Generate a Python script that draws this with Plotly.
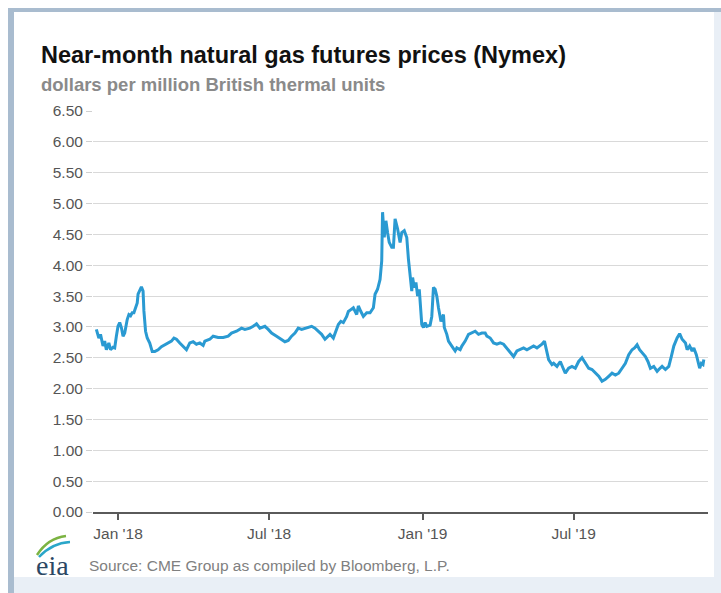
import plotly.graph_objects as go

# ---- data ----
dates = [
    "2017-12-06","2017-12-09","2017-12-11","2017-12-14","2017-12-16","2017-12-18","2017-12-21","2017-12-23",
    "2017-12-26","2017-12-28","2017-12-30","2018-01-01","2018-01-03","2018-01-05","2018-01-07","2018-01-09",
    "2018-01-12","2018-01-14","2018-01-16","2018-01-18","2018-01-20","2018-01-22","2018-01-24","2018-01-25",
    "2018-01-27","2018-01-29","2018-01-31","2018-02-01","2018-02-03","2018-02-05","2018-02-08","2018-02-11",
    "2018-02-14","2018-02-18","2018-02-22","2018-02-26","2018-03-02","2018-03-06","2018-03-09","2018-03-12",
    "2018-03-16","2018-03-20","2018-03-24","2018-03-28","2018-04-01","2018-04-05","2018-04-09","2018-04-13",
    "2018-04-15","2018-04-21","2018-04-25","2018-05-01","2018-05-07","2018-05-13","2018-05-17","2018-05-23",
    "2018-05-29","2018-06-02","2018-06-08","2018-06-12","2018-06-16","2018-06-20","2018-06-26","2018-06-30",
    "2018-07-04","2018-07-10","2018-07-16","2018-07-20","2018-07-24","2018-07-28","2018-08-01","2018-08-05",
    "2018-08-09","2018-08-15","2018-08-21","2018-08-25","2018-08-29","2018-09-02","2018-09-06","2018-09-10",
    "2018-09-12","2018-09-16","2018-09-20","2018-09-22","2018-09-25","2018-09-28","2018-10-02","2018-10-04",
    "2018-10-07","2018-10-10","2018-10-14","2018-10-16","2018-10-19","2018-10-22","2018-10-26","2018-10-30",
    "2018-11-03","2018-11-05","2018-11-08","2018-11-11","2018-11-13","2018-11-14","2018-11-16","2018-11-18",
    "2018-11-20","2018-11-22","2018-11-25","2018-11-27","2018-11-29","2018-12-02","2018-12-05","2018-12-07",
    "2018-12-10","2018-12-13","2018-12-15","2018-12-17","2018-12-19","2018-12-20","2018-12-22","2018-12-24",
    "2018-12-26","2018-12-28","2018-12-30","2018-12-31","2019-01-02","2019-01-04","2019-01-06","2019-01-10",
    "2019-01-12","2019-01-14","2019-01-16","2019-01-18","2019-01-20","2019-01-23","2019-01-26","2019-01-27",
    "2019-01-30","2019-02-01","2019-02-05","2019-02-09","2019-02-11","2019-02-15","2019-02-17","2019-02-21",
    "2019-02-25","2019-03-01","2019-03-05","2019-03-09","2019-03-13","2019-03-17","2019-03-19","2019-03-23",
    "2019-03-27","2019-03-31","2019-04-04","2019-04-08","2019-04-13","2019-04-16","2019-04-20","2019-04-24",
    "2019-04-28","2019-05-02","2019-05-06","2019-05-10","2019-05-14","2019-05-18","2019-05-21","2019-05-24",
    "2019-05-27","2019-05-30","2019-06-01","2019-06-05","2019-06-07","2019-06-11","2019-06-15","2019-06-19",
    "2019-06-21","2019-06-25","2019-06-29","2019-07-03","2019-07-07","2019-07-11","2019-07-15","2019-07-19",
    "2019-07-23","2019-07-27","2019-07-31","2019-08-04","2019-08-08","2019-08-12","2019-08-16","2019-08-20",
    "2019-08-24","2019-08-28","2019-09-01","2019-09-05","2019-09-09","2019-09-12","2019-09-15","2019-09-18",
    "2019-09-21","2019-09-25","2019-09-28","2019-10-01","2019-10-05","2019-10-09","2019-10-11","2019-10-15",
    "2019-10-19","2019-10-23","2019-10-26","2019-10-29","2019-11-02","2019-11-05","2019-11-08","2019-11-12",
    "2019-11-14","2019-11-17","2019-11-20","2019-11-22","2019-11-25","2019-11-27","2019-11-29","2019-12-01",
    "2019-12-03","2019-12-04",
]
prices = [
    2.96,2.82,2.88,2.69,2.77,2.63,2.74,2.63,
    2.67,2.66,2.85,3.01,3.07,2.99,2.85,2.90,
    3.12,3.20,3.18,3.23,3.23,3.31,3.39,3.53,
    3.58,3.65,3.58,3.26,2.93,2.82,2.74,2.60,
    2.60,2.63,2.68,2.71,2.74,2.77,2.82,2.80,
    2.74,2.68,2.63,2.74,2.76,2.72,2.74,2.70,
    2.77,2.80,2.85,2.83,2.83,2.85,2.90,2.93,
    2.98,2.96,2.98,3.01,3.05,2.98,3.01,2.96,
    2.90,2.85,2.80,2.76,2.78,2.85,2.90,2.98,
    2.96,2.98,3.01,2.98,2.93,2.88,2.80,2.85,
    2.88,2.82,2.96,3.04,3.09,3.07,3.17,3.25,
    3.28,3.31,3.20,3.34,3.25,3.17,3.23,3.23,
    3.31,3.53,3.61,3.77,4.07,4.86,4.45,4.72,
    4.53,4.37,4.29,4.29,4.75,4.59,4.37,4.53,
    4.56,4.45,4.10,3.85,3.58,3.80,3.64,3.72,
    3.50,3.61,3.26,3.04,2.99,3.07,3.01,3.03,
    3.17,3.64,3.61,3.50,3.31,3.09,3.20,2.99,
    2.88,2.77,2.69,2.61,2.66,2.63,2.69,2.77,
    2.88,2.90,2.93,2.88,2.90,2.90,2.85,2.82,
    2.74,2.72,2.74,2.72,2.63,2.58,2.52,2.61,
    2.63,2.66,2.63,2.66,2.69,2.66,2.69,2.72,
    2.77,2.61,2.47,2.39,2.41,2.36,2.44,2.31,
    2.25,2.33,2.36,2.33,2.44,2.50,2.41,2.33,
    2.31,2.25,2.20,2.12,2.15,2.20,2.25,2.22,
    2.25,2.33,2.41,2.55,2.63,2.66,2.71,2.63,
    2.58,2.52,2.44,2.33,2.36,2.28,2.31,2.36,
    2.31,2.36,2.52,2.69,2.82,2.89,2.80,2.74,
    2.63,2.69,2.61,2.66,2.55,2.44,2.33,2.41,
    2.39,2.47,
]
x_tick_vals = ["2018-01-01", "2018-07-01", "2019-01-01", "2019-07-01"]
x_tick_text = ["Jan '18", "Jul '18", "Jan '19", "Jul '19"]
y_tick_vals = [0, 0.5, 1, 1.5, 2, 2.5, 3, 3.5, 4, 4.5, 5, 5.5, 6, 6.5]
y_tick_text = ["%.2f" % v for v in y_tick_vals]

title_text = "Near-month natural gas futures prices (Nymex)"
subtitle_text = "dollars per million British thermal units"
source_text = "Source: CME Group as compiled by Bloomberg, L.P."

# ---- layout geometry (pixels) ----
W, H = 721, 593
L, R, T, B = 93, 708, 111, 512
PW, PH = R - L, B - T


def px(x):
    return (x - L) / PW


def py(y):
    return (B - y) / PH


FONT = "Liberation Sans, Arial, Helvetica, sans-serif"

fig = go.Figure()
fig.add_trace(go.Scatter(
    x=dates, y=prices, mode="lines",
    line=dict(color="#2a9ad2", width=3),
    hoverinfo="x+y", showlegend=False,
))

shapes = [
    # outer light-blue frame
    dict(type="rect", xref="paper", yref="paper", x0=px(8), x1=px(W), y0=py(H), y1=py(8),
         fillcolor="#e9eff6", line=dict(width=0), layer="below"),
    # left border bar
    dict(type="rect", xref="paper", yref="paper", x0=px(8), x1=px(14), y0=py(H), y1=py(8),
         fillcolor="#a9bccf", line=dict(width=0), layer="below"),
    # top border
    dict(type="rect", xref="paper", yref="paper", x0=px(8), x1=px(W), y0=py(12), y1=py(8),
         fillcolor="#a9bccf", line=dict(width=0), layer="below"),
    # inner white panel
    dict(type="rect", xref="paper", yref="paper", x0=px(14), x1=px(714), y0=py(577), y1=py(12),
         fillcolor="#ffffff", line=dict(width=0), layer="below"),
    # eia logo swooshes
    dict(type="path", xref="paper", yref="paper",
         path="M %f %f Q %f %f %f %f" % (px(37), py(555), px(48), py(538), px(66), py(536)),
         line=dict(color="#7cb342", width=2.5)),
    dict(type="path", xref="paper", yref="paper",
         path="M %f %f Q %f %f %f %f" % (px(39), py(557), px(52), py(543), px(70), py(542)),
         line=dict(color="#2aa6c9", width=2.5)),
]

annotations = [
    dict(text="<b>%s</b>" % title_text, x=px(39), y=py(55), xref="paper", yref="paper",
         xanchor="left", yanchor="middle", showarrow=False,
         font=dict(family=FONT, size=23.5, color="#111111")),
    dict(text="<b>%s</b>" % subtitle_text, x=px(39), y=py(84), xref="paper", yref="paper",
         xanchor="left", yanchor="middle", showarrow=False,
         font=dict(family=FONT, size=18.5, color="#8a8a8a")),
    dict(text=source_text, x=px(87), y=py(565), xref="paper", yref="paper",
         xanchor="left", yanchor="middle", showarrow=False,
         font=dict(family=FONT, size=15.5, color="#808080")),
    dict(text="eia", x=px(34), y=py(565), xref="paper", yref="paper",
         xanchor="left", yanchor="middle", showarrow=False,
         font=dict(family="Liberation Serif, Times New Roman, serif", size=28, color="#2b4764")),
]

fig.update_layout(
    width=W, height=H,
    margin=dict(l=L, r=W - R, t=T, b=H - B, pad=0),
    paper_bgcolor="#ffffff",
    plot_bgcolor="rgba(0,0,0,0)",
    shapes=shapes,
    annotations=annotations,
    showlegend=False,
    xaxis=dict(
        type="date",
        range=["2017-12-02", "2019-12-09"],
        tickmode="array", tickvals=x_tick_vals, ticktext=x_tick_text,
        showgrid=False, zeroline=False,
        showline=True, linecolor="#5a5a5a", linewidth=2,
        ticks="outside", ticklen=6, tickwidth=1.5, tickcolor="#5a5a5a",
        tickfont=dict(family=FONT, size=15.5, color="#555555"),
    ),
    yaxis=dict(
        range=[0, 6.5],
        tickmode="array", tickvals=y_tick_vals, ticktext=y_tick_text,
        showgrid=True, gridcolor="#d9d9d9", gridwidth=1.2,
        zeroline=False, showline=False,
        ticks="outside", ticklen=6, tickcolor="#d0d0d0",
        tickfont=dict(family=FONT, size=15.5, color="#555555"),
    ),
)

fig.write_html("out.html")
